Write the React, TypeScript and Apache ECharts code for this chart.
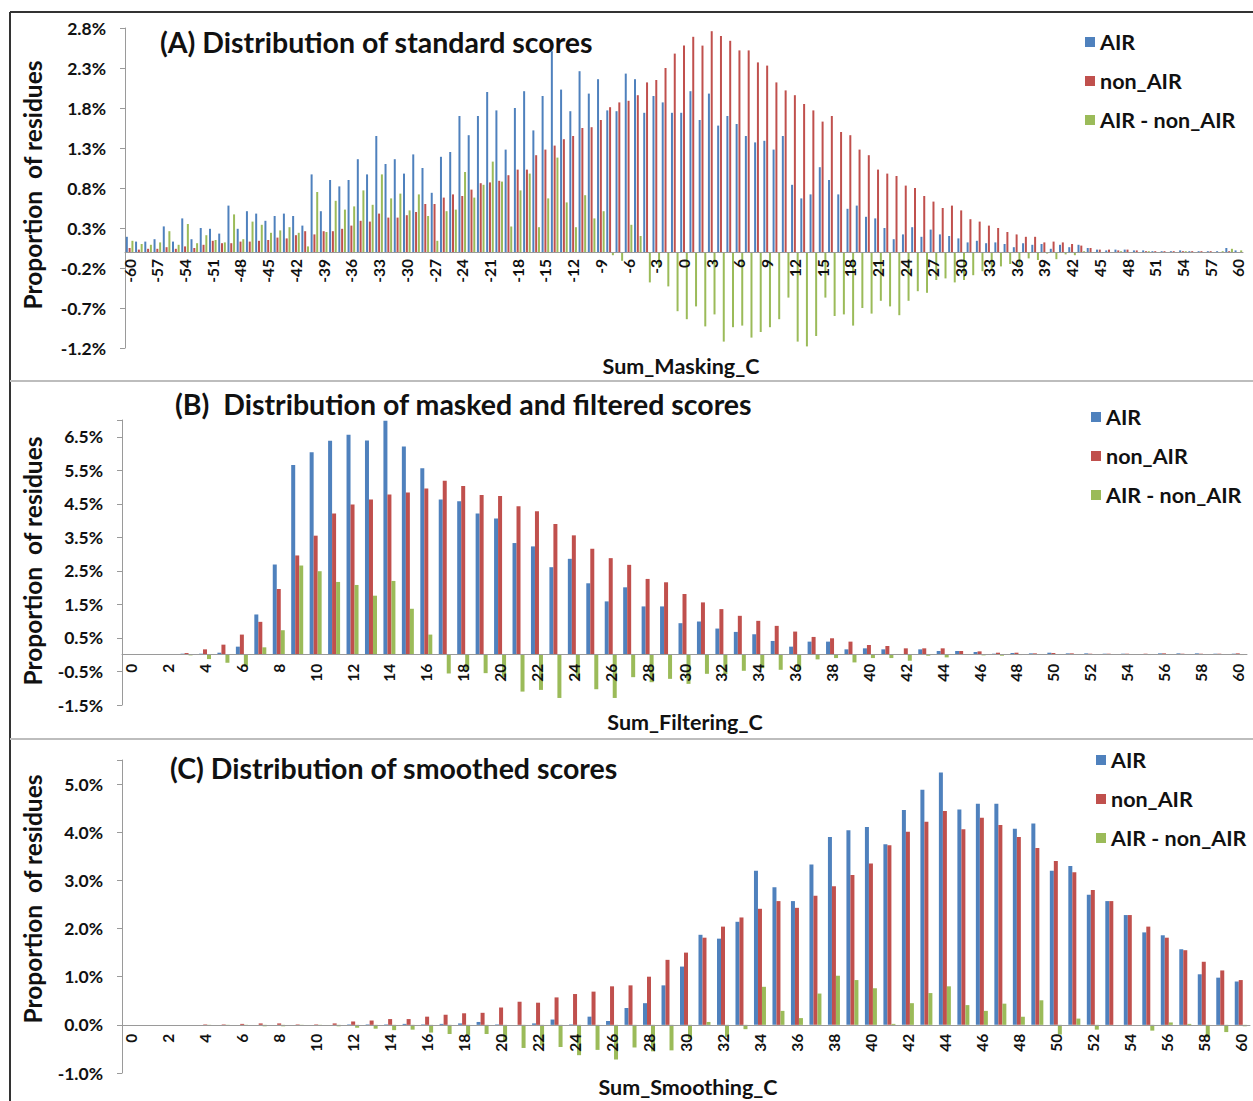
import React, { useEffect, useRef } from "react";
import * as echarts from "echarts";

const catsA = [
  "-60","-59","-58","-57","-56","-55","-54","-53","-52","-51","-50","-49","-48","-47","-46","-45","-44","-43","-42","-41",
  "-40","-39","-38","-37","-36","-35","-34","-33","-32","-31","-30","-29","-28","-27","-26","-25","-24","-23","-22","-21",
  "-20","-19","-18","-17","-16","-15","-14","-13","-12","-11","-10","-9","-8","-7","-6","-5","-4","-3","-2","-1",
  "0","1","2","3","4","5","6","7","8","9","10","11","12","13","14","15","16","17","18","19",
  "20","21","22","23","24","25","26","27","28","29","30","31","32","33","34","35","36","37","38","39",
  "40","41","42","43","44","45","46","47","48","49","50","51","52","53","54","55","56","57","58","59","60"
];

const catsBC = [
  "0","1","2","3","4","5","6","7","8","9","10","11","12","13","14","15","16","17","18","19",
  "20","21","22","23","24","25","26","27","28","29","30","31","32","33","34","35","36","37","38","39",
  "40","41","42","43","44","45","46","47","48","49","50","51","52","53","54","55","56","57","58","59","60"
];

// Panel A (%), categories -60..60
const airA = [
  0.19,0.13,0.13,0.16,0.32,0.13,0.42,0.16,0.30,0.29,0.23,0.58,0.29,0.51,0.48,0.39,0.45,0.48,0.45,0.33,
  0.97,0.51,0.90,0.82,0.90,1.16,0.97,1.45,1.10,1.16,0.98,1.22,1.05,0.74,1.19,1.25,1.70,1.46,1.70,2.00,
  1.77,1.28,1.80,2.01,1.52,1.95,2.51,2.03,1.76,2.26,1.98,2.16,1.77,1.76,2.23,2.16,1.74,1.95,1.87,1.74,
  1.74,2.01,1.65,1.98,1.58,1.70,1.60,1.45,1.37,1.39,1.28,1.45,0.84,0.67,0.72,1.06,0.90,0.72,0.54,0.58,
  0.44,0.42,0.30,0.16,0.22,0.31,0.19,0.28,0.22,0.20,0.17,0.12,0.14,0.11,0.12,0.10,0.06,0.11,0.09,0.10,
  0.04,0.09,0.06,0.09,0.05,0.03,0.02,0.03,0.03,0.02,0.02,0.01,0.01,0.01,0.02,0.01,0.01,0.01,0.01,0.05,0.02
];
const nonA = [
  0.05,0.03,0.04,0.04,0.06,0.04,0.07,0.05,0.09,0.14,0.11,0.11,0.13,0.13,0.14,0.15,0.18,0.17,0.21,0.26,
  0.22,0.26,0.26,0.29,0.33,0.39,0.38,0.48,0.43,0.43,0.46,0.50,0.60,0.60,0.68,0.72,0.70,0.78,0.86,0.87,
  0.89,0.96,1.03,1.03,1.21,1.28,1.33,1.41,1.45,1.55,1.56,1.65,1.81,1.87,1.89,1.96,2.12,2.15,2.30,2.48,
  2.58,2.69,2.58,2.76,2.70,2.64,2.52,2.52,2.37,2.33,2.12,2.02,1.96,1.85,1.77,1.63,1.70,1.50,1.46,1.28,
  1.21,1.03,0.98,0.95,0.83,0.80,0.70,0.63,0.55,0.58,0.52,0.41,0.38,0.33,0.30,0.25,0.22,0.19,0.19,0.12,
  0.13,0.12,0.10,0.08,0.05,0.03,0.03,0.02,0.03,0.02,0.01,0.01,0.01,0.01,0.01,0.01,0.01,0.01,0.00,0.01,0.00
];
const diffA = [
  0.14,0.10,0.09,0.12,0.26,0.09,0.35,0.11,0.21,0.15,0.12,0.47,0.16,0.38,0.34,0.24,0.27,0.31,0.24,0.07,
  0.75,0.25,0.64,0.53,0.57,0.77,0.59,0.97,0.67,0.73,0.52,0.72,0.45,0.14,0.51,0.53,1.00,0.68,0.84,1.13,
  0.88,0.32,0.77,0.98,0.31,0.67,1.18,0.62,0.31,0.71,0.42,0.51,-0.04,-0.11,0.34,0.20,-0.38,-0.20,-0.43,-0.74,
  -0.84,-0.68,-0.93,-0.78,-1.12,-0.94,-0.92,-1.07,-1.00,-0.94,-0.84,-0.57,-1.12,-1.18,-1.05,-0.57,-0.80,-0.78,-0.92,-0.70,
  -0.77,-0.61,-0.68,-0.79,-0.61,-0.49,-0.51,-0.35,-0.33,-0.38,-0.35,-0.29,-0.24,-0.22,-0.18,-0.15,-0.16,-0.08,-0.10,-0.02,
  -0.09,-0.03,-0.04,0.01,0.00,0.00,-0.01,0.01,0.00,0.00,0.01,0.00,0.00,0.00,0.01,0.00,0.00,0.00,0.01,0.04,0.02
];

// Panel B (%), categories 0..60
const airB = [
  0.02,0.02,0.02,0.03,0.03,0.06,0.24,1.20,2.69,5.66,6.04,6.38,6.56,6.39,6.98,6.21,5.56,4.63,4.58,4.21,
  4.06,3.33,3.23,2.61,2.86,2.13,1.59,2.01,1.44,1.44,0.94,0.99,0.78,0.68,0.61,0.41,0.24,0.39,0.39,0.16,
  0.19,0.16,0.01,0.16,0.11,0.11,0.08,0.03,0.05,0.04,0.06,0.04,0.04,0.03,0.03,0.02,0.04,0.04,0.04,0.03,0.03
];
const nonB = [
  0.02,0.02,0.01,0.05,0.16,0.30,0.60,0.98,1.96,2.96,3.55,4.21,4.48,4.63,4.78,4.84,4.96,5.19,5.03,4.76,
  4.73,4.43,4.28,3.90,3.56,3.16,2.88,2.68,2.26,2.16,1.81,1.56,1.36,1.16,1.01,0.86,0.69,0.53,0.49,0.39,
  0.29,0.26,0.19,0.19,0.19,0.11,0.10,0.06,0.06,0.04,0.05,0.04,0.03,0.03,0.03,0.03,0.04,0.03,0.03,0.03,0.04
];
const diffB = [
  0.00,0.00,0.01,-0.02,-0.13,-0.24,-0.36,0.22,0.73,2.66,2.49,2.17,2.08,1.76,2.20,1.37,0.60,-0.56,-0.45,-0.55,
  -0.67,-1.10,-1.05,-1.29,-0.70,-1.03,-1.29,-0.67,-0.82,-0.72,-0.87,-0.57,-0.58,-0.48,-0.40,-0.45,-0.45,-0.14,-0.10,-0.23,
  -0.10,-0.10,-0.18,-0.03,-0.08,0.00,-0.02,-0.03,-0.01,0.00,0.01,0.00,0.01,0.00,0.00,-0.01,0.00,0.01,0.01,0.00,-0.01
];

// Panel C (%), categories 0..60
const airC = [
  0,0,0,0,0,0,0,0,0,0,0,0,0.01,0.01,0.01,0.02,0.01,0.02,0.03,0.06,
  0.01,0.00,0.03,0.11,0.01,0.17,0.08,0.35,0.45,0.82,1.21,1.87,1.79,2.14,3.20,2.86,2.57,3.33,3.90,4.04,
  4.11,3.75,4.46,4.88,5.24,4.47,4.59,4.59,4.07,4.18,3.20,3.30,2.70,2.57,2.28,1.92,1.86,1.57,1.05,0.98,0.90
];
const nonC = [
  0,0,0,0,0.01,0.01,0.02,0.03,0.03,0.01,0.01,0.03,0.07,0.09,0.12,0.12,0.17,0.21,0.24,0.25,
  0.36,0.48,0.46,0.57,0.64,0.69,0.80,0.82,1.00,1.35,1.50,1.81,2.04,2.23,2.41,2.57,2.43,2.68,2.88,3.11,
  3.35,3.73,4.01,4.22,4.44,4.06,4.30,4.15,3.90,3.67,3.40,3.17,2.80,2.57,2.28,2.04,1.81,1.55,1.31,1.13,0.93
];
const diffC = [
  0,0,0,0,-0.01,-0.01,-0.02,-0.03,-0.03,-0.01,-0.01,-0.03,-0.06,-0.08,-0.11,-0.10,-0.16,-0.19,-0.21,-0.19,
  -0.35,-0.48,-0.43,-0.46,-0.63,-0.52,-0.72,-0.47,-0.55,-0.53,-0.29,0.06,-0.25,-0.09,0.79,0.29,0.14,0.65,1.02,0.93,
  0.76,0.02,0.45,0.66,0.80,0.41,0.29,0.44,0.17,0.51,-0.20,0.13,-0.10,0.00,0.00,-0.12,0.05,0.02,-0.26,-0.15,-0.03
];

const seriesNames = ["AIR", "non_AIR", "AIR - non_AIR"];
const colors = ["#4F81BD", "#C0504D", "#9BBB59"];

const FONT = "Lato, 'Open Sans', sans-serif";

// grid geometry: [left, top, width, height, yMin, yMax]
const gridsGeom = [
  [125, 28, 1118, 320, -1.2, 2.8],
  [122, 420, 1125, 285, -1.5, 7.0],
  [122, 760, 1128, 313, -1.0, 5.5],
];

export default function App() {
  const ref = useRef<HTMLDivElement>(null);

  useEffect(() => {
    if (!ref.current) return;
    const chart = echarts.init(ref.current, null, { renderer: "svg" });

    const pct = (v: number) => v.toFixed(1) + "%";

    const yAxisBase = (grid: number, interval: number, margin: number, hideMax: boolean) => {
      const [, , , , min, max] = gridsGeom[grid];
      return {
        type: "value",
        gridIndex: grid,
        min,
        max,
        interval,
        axisLine: { show: true, lineStyle: { color: "#9a9a9a", width: 1 } },
        axisTick: { show: true, length: 5, lineStyle: { color: "#9a9a9a" } },
        splitLine: { show: false },
        axisLabel: {
          margin,
          fontSize: 17.5,
          fontWeight: "bold",
          color: "#111",
          fontFamily: FONT,
          formatter: (v: number) => (hideMax && Math.abs(v - max) < 1e-6 ? "" : pct(v)),
        },
      };
    };

    const xAxisBase = (grid: number, data: string[], interval: number, margin: number) => {
      const [, , , h, min, max] = gridsGeom[grid];
      const zeroOffset = (h * (0 - min)) / (max - min);
      return {
        type: "category",
        gridIndex: grid,
        data,
        position: "bottom",
        offset: -zeroOffset,
        z: 5,
        axisLine: { show: true, onZero: false, lineStyle: { color: "#9a9a9a", width: 1 } },
        axisTick: { show: false },
        splitLine: { show: false },
        axisLabel: {
          interval,
          rotate: 90,
          margin,
          fontSize: 15.5,
          fontWeight: "bold",
          color: "#111",
          fontFamily: FONT,
        },
      };
    };

    const mk = (axis: number, name: string, data: number[], color: string, barWidth: number, barGap: string) => ({
      type: "bar",
      name,
      xAxisIndex: axis,
      yAxisIndex: axis,
      data,
      barWidth,
      barGap,
      itemStyle: { color },
      emphasis: { disabled: true },
    });

    const legendBase = (left: number, top: number) => ({
      left,
      top,
      orient: "vertical",
      padding: 0,
      itemWidth: 10,
      itemHeight: 10,
      itemGap: 17,
      icon: "rect",
      selectedMode: false,
      data: seriesNames,
      textStyle: { fontSize: 21.5, lineHeight: 21.5, fontWeight: "bold", color: "#111", fontFamily: FONT },
    });

    const txt = (text: string, x: number, y: number, size: number, align = "left", rotation = 0) => ({
      type: "text",
      x,
      y,
      rotation,
      silent: true,
      style: {
        text,
        font: `bold ${size}px ${FONT}`,
        fill: "#111",
        textAlign: align,
        textVerticalAlign: "middle",
      },
    });

    const line = (x1: number, y1: number, x2: number, y2: number, stroke: string, lineWidth: number) => ({
      type: "line",
      silent: true,
      shape: { x1, y1, x2, y2 },
      style: { stroke, lineWidth },
    });

    const option = {
      animation: false,
      textStyle: { fontFamily: FONT },
      grid: gridsGeom.map(([left, top, width, height]) => ({ left, top, width, height })),
      xAxis: [
        xAxisBase(0, catsA, 2, 7),
        xAxisBase(1, catsBC, 1, 9),
        xAxisBase(2, catsBC, 1, 9),
      ],
      yAxis: [
        yAxisBase(0, 0.5, 19, false),
        yAxisBase(1, 1, 19, true),
        yAxisBase(2, 1, 19, true),
      ],
      legend: [legendBase(1085, 31), legendBase(1091, 406), legendBase(1096, 749)],
      series: [
        mk(0, seriesNames[0], airA, colors[0], 2, "40%"),
        mk(0, seriesNames[1], nonA, colors[1], 2, "40%"),
        mk(0, seriesNames[2], diffA, colors[2], 2, "40%"),
        mk(1, seriesNames[0], airB, colors[0], 4, "0%"),
        mk(1, seriesNames[1], nonB, colors[1], 4, "0%"),
        mk(1, seriesNames[2], diffB, colors[2], 4, "0%"),
        mk(2, seriesNames[0], airC, colors[0], 4, "0%"),
        mk(2, seriesNames[1], nonC, colors[1], 4, "0%"),
        mk(2, seriesNames[2], diffC, colors[2], 4, "0%"),
      ],
      graphic: [
        line(10, 12, 1253, 12, "#333", 2),
        line(10, 12, 10, 1101, "#333", 2),
        line(10, 381, 1253, 381, "#bdbdbd", 2),
        line(10, 739, 1253, 739, "#bdbdbd", 2),
        txt("(A) Distribution of standard scores", 160, 42, 28.5),
        txt("(B)  Distribution of masked and filtered scores", 175, 404, 28.5),
        txt("(C) Distribution of smoothed scores", 170, 768, 28.5),
        txt("Proportion  of residues", 32, 185, 24.5, "center", Math.PI / 2),
        txt("Proportion  of residues", 32, 561, 24.5, "center", Math.PI / 2),
        txt("Proportion  of residues", 32, 899, 24.5, "center", Math.PI / 2),
        txt("Sum_Masking_C", 681, 366, 21.5, "center"),
        txt("Sum_Filtering_C", 685, 722, 21.5, "center"),
        txt("Sum_Smoothing_C", 688, 1087, 21.5, "center"),
      ],
    };

    chart.setOption(option as any);
    return () => chart.dispose();
  }, []);

  return (
    <div
      ref={ref}
      style={{ position: "fixed", left: 0, top: 0, width: 1253, height: 1101, background: "#fff" }}
    />
  );
}
